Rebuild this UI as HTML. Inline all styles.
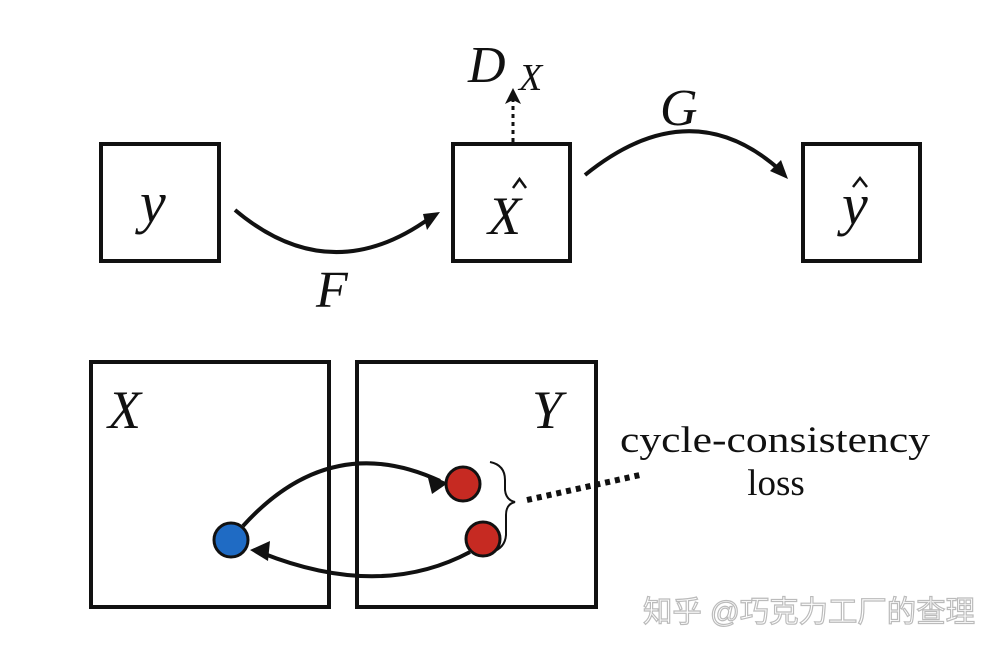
<!DOCTYPE html>
<html><head><meta charset="utf-8"><style>
html,body{margin:0;padding:0;background:#fff;}
svg{display:block;}
.m{font-family:"Liberation Serif",serif;font-style:italic;fill:#111;}
</style></head><body>
<svg width="1000" height="654" viewBox="0 0 1000 654" xmlns="http://www.w3.org/2000/svg">
<g fill="none" stroke="#111" stroke-width="4">
<rect x="101" y="144" width="118" height="117"/>
<rect x="453" y="144" width="117" height="117"/>
<rect x="803" y="144" width="117" height="117"/>
<rect x="91" y="362" width="238" height="245"/>
<rect x="357" y="362" width="239" height="245"/>
<path d="M235 210 Q330 290 430 218"/>
<path d="M585 175 Q690 90 780 170"/>
<path d="M513 142 L513 100" stroke-width="3" stroke-dasharray="4,4"/>
<path d="M243 526 Q330 430 440 481"/>
<path d="M470 552 Q380 600 262 553"/>
<path d="M527 500 L640 475" stroke-width="6" stroke-dasharray="5,5"/>
<path d="M490 462 Q505 465 505 480 L505 490 Q506 500 515 502 Q506 504 506 515 L506 535 Q505 548 492 552" stroke-width="2"/>
<path d="M513 188 L519.5 179 L526 188" stroke-width="2.5"/>
<path d="M853 187 L860 178 L867 187" stroke-width="2.5"/>
</g>
<g fill="#111">
<polygon points="440,212 427,230 423,214"/>
<polygon points="788,179 770,171 781,160"/>
<polygon points="513,88 505,104 513,100 521,104"/>
<polygon points="448,483 427,474 432,494"/>
<polygon points="250,550 270,541 268,561"/>
</g>
<circle cx="231" cy="540" r="17" fill="#1f6bc4" stroke="#111" stroke-width="3"/>
<circle cx="463" cy="484" r="17" fill="#c62a22" stroke="#111" stroke-width="3"/>
<circle cx="483" cy="539" r="17" fill="#c62a22" stroke="#111" stroke-width="3"/>
<text class="m" x="140" y="222" font-size="58">y</text>
<text class="m" x="488" y="234" font-size="54">X</text>
<text class="m" x="842" y="224" font-size="58">y</text>
<text class="m" x="316" y="307" font-size="52">F</text>
<text class="m" x="660" y="125" font-size="52">G</text>
<text class="m" x="468" y="82" font-size="52">D</text>
<text class="m" x="519" y="90" font-size="38">X</text>
<text class="m" x="108" y="428" font-size="54">X</text>
<text class="m" x="532" y="428" font-size="54">Y</text>
<text x="620" y="452" font-family="Liberation Serif,serif" font-size="37" fill="#111" textLength="310" lengthAdjust="spacingAndGlyphs">cycle-consistency</text>
<text x="776" y="495" font-family="Liberation Serif,serif" font-size="37" fill="#111" text-anchor="middle">loss</text>
<text x="643" y="622" font-family="'Liberation Sans','Noto Sans CJK SC',sans-serif" font-size="30" fill="#fff" stroke="#bbb" stroke-width="1.2" textLength="332" lengthAdjust="spacingAndGlyphs">知乎 @巧克力工厂的查理</text>
</svg>
</body></html>
